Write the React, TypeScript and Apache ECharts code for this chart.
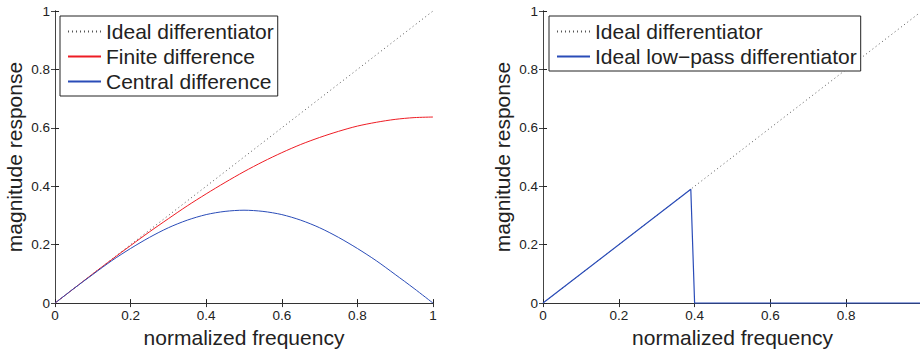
import React, { useEffect, useRef } from "react";
import * as echarts from "echarts";

const freq = [0, 0.05, 0.1, 0.15, 0.2, 0.25, 0.3, 0.35, 0.4, 0.45, 0.5, 0.55, 0.6, 0.65, 0.7, 0.75, 0.8, 0.85, 0.9, 0.95, 1];
const finiteDiff = [0, 0.05, 0.1, 0.149, 0.197, 0.244, 0.289, 0.333, 0.374, 0.413, 0.45, 0.484, 0.515, 0.543, 0.567, 0.588, 0.606, 0.619, 0.629, 0.635, 0.637];
const centralDiff = [0, 0.05, 0.098, 0.145, 0.187, 0.225, 0.258, 0.284, 0.303, 0.314, 0.318, 0.314, 0.303, 0.284, 0.258, 0.225, 0.187, 0.145, 0.098, 0.05, 0];
const idealX = [0, 1];
const idealY = [0, 1];
const lowpassX = [0, 0.39, 0.4, 1];
const lowpassY = [0, 0.39, 0, 0];
const tickLabels = ["0", "0.2", "0.4", "0.6", "0.8", "1"];

const FONT = "Liberation Sans, Arial, Helvetica, sans-serif";
const zip = (xs: number[], ys: number[]) => xs.map((x, i) => [x, ys[i]]);
const fmt = (v: number) => tickLabels[Math.round(v / 0.2)] ?? String(v);
// the right panel's last x tick label falls outside the picture
const fmtClipped = (v: number) => (v >= 0.99 ? "" : fmt(v));

export default function App() {
  const ref = useRef<HTMLDivElement>(null);
  useEffect(() => {
    if (!ref.current) return;
    const chart = echarts.init(ref.current, undefined, { renderer: "svg" });
    const grids = [
      { left: 55, top: 11, width: 378, height: 297 },
      { left: 543, top: 11, width: 379, height: 297 },
    ];
    const xAxes: any[] = [];
    const yAxes: any[] = [];
    grids.forEach((_, g) => {
      xAxes.push({
        gridIndex: g, type: "value", min: 0, max: 1, interval: 0.2, position: "bottom",
        name: "normalized frequency", nameLocation: "middle", nameGap: 20,
        nameTextStyle: { fontSize: 21, color: "#222", fontFamily: FONT },
        axisLine: { show: true, lineStyle: { color: "#222", width: 1 } },
        axisTick: { show: true, inside: true, length: 4, lineStyle: { color: "#222" } },
        axisLabel: { fontSize: 13.5, color: "#222", fontFamily: FONT, margin: 5, formatter: g === 0 ? fmt : fmtClipped },
        splitLine: { show: false },
      });
      xAxes.push({
        gridIndex: g, type: "value", min: 0, max: 1, interval: 0.2, position: "top",
        axisLine: { show: true, lineStyle: { color: "#333", width: 1 } },
        axisTick: { show: true, inside: true, length: 4, lineStyle: { color: "#333" } },
        axisLabel: { show: false }, splitLine: { show: false },
      });
      yAxes.push({
        gridIndex: g, type: "value", min: 0, max: 1, interval: 0.2, position: "left",
        name: "magnitude response", nameLocation: "middle", nameGap: 30,
        nameTextStyle: { fontSize: 21, color: "#222", fontFamily: FONT },
        axisLine: { show: true, lineStyle: { color: "#222", width: 1 } },
        axisTick: { show: true, inside: true, length: 4, lineStyle: { color: "#222" } },
        axisLabel: { fontSize: 13.5, color: "#222", fontFamily: FONT, margin: 5, formatter: fmt },
        splitLine: { show: false },
      });
      yAxes.push({
        gridIndex: g, type: "value", min: 0, max: 1, interval: 0.2, position: "right",
        axisLine: { show: true, lineStyle: { color: "#444", width: 1 } },
        axisTick: { show: true, inside: true, length: 4, lineStyle: { color: "#444" } },
        axisLabel: { show: false }, splitLine: { show: false },
      });
    });
    const dotted = { color: "#555", width: 1, type: [1, 3] as any };
    const legendBase = {
      orient: "vertical", backgroundColor: "#fff", borderColor: "#222", borderWidth: 1,
      itemWidth: 33, itemHeight: 12, itemGap: 4, padding: [5, 4, 4, 7],
      textStyle: { fontSize: 21, color: "#222", fontFamily: FONT },
      itemStyle: { opacity: 0 },
      borderRadius: 0,
    };
    chart.setOption({
      animation: false,
      grid: grids,
      xAxis: xAxes,
      yAxis: yAxes,
      legend: [
        { ...legendBase, left: 60, top: 16, data: ["Ideal differentiator", "Finite difference", "Central difference"] },
        { ...legendBase, left: 549, top: 16, data: ["Ideal differentiator", "Ideal low\u2212pass differentiator"] },
      ],
      series: [
        { name: "Ideal differentiator", type: "line", xAxisIndex: 0, yAxisIndex: 0, symbol: "none", data: zip(idealX, idealY), lineStyle: dotted, itemStyle: { color: "#555" } },
        { name: "Finite difference", type: "line", xAxisIndex: 0, yAxisIndex: 0, symbol: "none", smooth: 0.3, data: zip(freq, finiteDiff), lineStyle: { color: "#ee1c24", width: 1 }, itemStyle: { color: "#ee1c24" } },
        { name: "Central difference", type: "line", xAxisIndex: 0, yAxisIndex: 0, symbol: "none", smooth: 0.3, data: zip(freq, centralDiff), lineStyle: { color: "#2a4cb8", width: 1 }, itemStyle: { color: "#2a4cb8" } },
        { name: "Ideal differentiator", type: "line", xAxisIndex: 2, yAxisIndex: 2, symbol: "none", data: zip(idealX, idealY), lineStyle: dotted, itemStyle: { color: "#555" } },
        { name: "Ideal low\u2212pass differentiator", type: "line", xAxisIndex: 2, yAxisIndex: 2, symbol: "none", data: zip(lowpassX, lowpassY), lineStyle: { color: "#2a4cb8", width: 1.2 }, itemStyle: { color: "#2a4cb8" } },
      ],
    });
    return () => chart.dispose();
  }, []);
  return (
    <div style={{ position: "absolute", left: 0, top: 0, width: 920, height: 353, overflow: "hidden", background: "#fff" }}>
      <div ref={ref} style={{ width: 930, height: 353 }} />
    </div>
  );
}
